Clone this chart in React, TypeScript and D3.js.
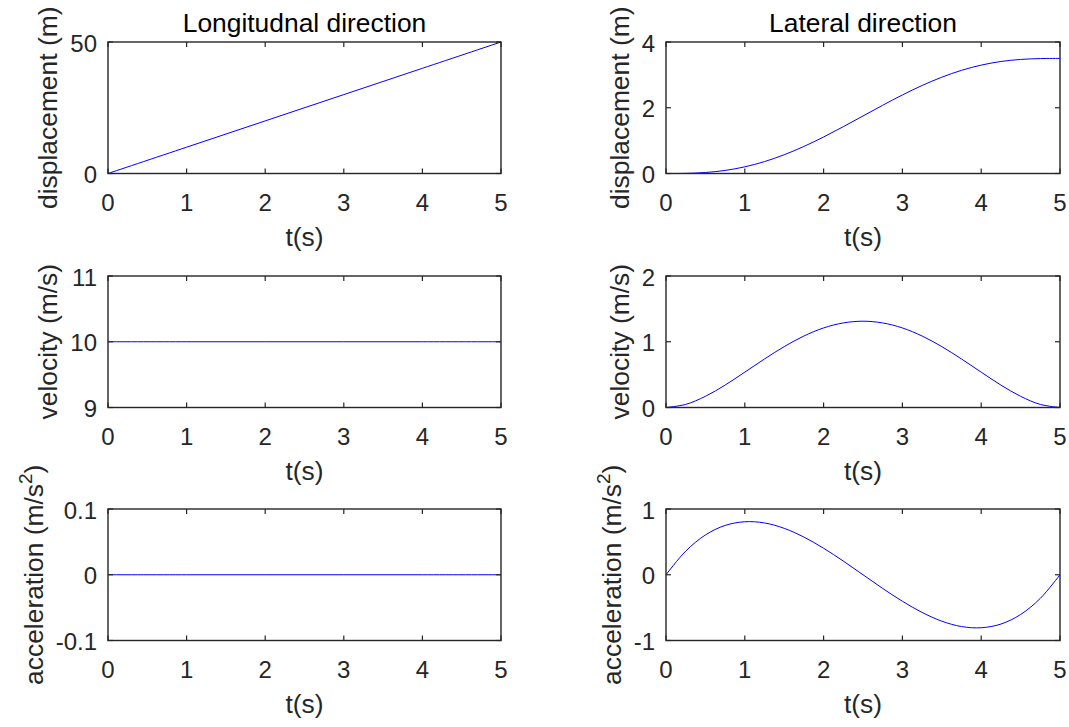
import React from "react";
import * as d3 from "d3";

// Time samples (s)
const timeLong = [0, 1, 2, 3, 4, 5];
const timeLat = [
  0, 0.25, 0.5, 0.75, 1, 1.25, 1.5, 1.75, 2, 2.25, 2.5, 2.75, 3, 3.25, 3.5,
  3.75, 4, 4.25, 4.5, 4.75, 5,
];

// Longitudinal motion
const longDisplacement = [0, 10, 20, 30, 40, 50];
const longVelocity = [10, 10, 10, 10, 10, 10];
const longAcceleration = [0, 0, 0, 0, 0, 0];

// Lateral motion (lane change)
const latDisplacement = [
  0, 0.004, 0.03, 0.093, 0.203, 0.362, 0.571, 0.823, 1.111, 1.424, 1.75,
  2.076, 2.389, 2.677, 2.929, 3.138, 3.297, 3.407, 3.47, 3.496, 3.5,
];
const latVelocity = [
  0, 0.047, 0.17, 0.341, 0.538, 0.738, 0.926, 1.087, 1.21, 1.286, 1.3125,
  1.286, 1.21, 1.087, 0.926, 0.738, 0.538, 0.341, 0.17, 0.047, 0,
];
const latAcceleration = [
  0, 0.359, 0.605, 0.75, 0.806, 0.788, 0.706, 0.573, 0.403, 0.208, 0, -0.208,
  -0.403, -0.573, -0.706, -0.788, -0.806, -0.75, -0.605, -0.359, 0,
];

// Tick values
const xTicks = [0, 1, 2, 3, 4, 5];
const longDispTicks = [0, 50];
const longVelTicks = [9, 10, 11];
const longAccTicks = [-0.1, 0, 0.1];
const latDispTicks = [0, 2, 4];
const latVelTicks = [0, 1, 2];
const latAccTicks = [-1, 0, 1];

const titles = ["Longitudnal direction", "Lateral direction"];

type Panel = {
  col: number;
  row: number;
  t: number[];
  v: number[];
  domain: [number, number];
  ticks: number[];
  label: string;
  sup?: string;
};

const panels: Panel[] = [
  { col: 0, row: 0, t: timeLong, v: longDisplacement, domain: [0, 50], ticks: longDispTicks, label: "displacement (m)" },
  { col: 0, row: 1, t: timeLong, v: longVelocity, domain: [9, 11], ticks: longVelTicks, label: "velocity (m/s)" },
  { col: 0, row: 2, t: timeLong, v: longAcceleration, domain: [-0.1, 0.1], ticks: longAccTicks, label: "acceleration (m/s", sup: "2" },
  { col: 1, row: 0, t: timeLat, v: latDisplacement, domain: [0, 4], ticks: latDispTicks, label: "displacement (m)" },
  { col: 1, row: 1, t: timeLat, v: latVelocity, domain: [0, 2], ticks: latVelTicks, label: "velocity (m/s)" },
  { col: 1, row: 2, t: timeLat, v: latAcceleration, domain: [-1, 1], ticks: latAccTicks, label: "acceleration (m/s", sup: "2" },
];

const W = 1069;
const H = 727;
const colX = [108, 666];
const colW = [393, 394];
const rowY = [42, 276, 509];
const rowH = 131.5;

const FONT = '"Liberation Sans", Arial, Helvetica, sans-serif';
const TICK_SIZE = 24;
const LABEL_SIZE = 26.4;
const INK = "#262626";
const TICK_LEN = 5;

let canvasCtx: CanvasRenderingContext2D | null = null;
function textWidth(s: string, size: number): number {
  if (!canvasCtx) {
    const c = document.createElement("canvas");
    canvasCtx = c.getContext("2d");
  }
  if (!canvasCtx) return s.length * size * 0.55;
  canvasCtx.font = `${size}px ${FONT}`;
  return canvasCtx.measureText(s).width;
}

function fmt(v: number): string {
  return String(v);
}

function PanelView({ p }: { p: Panel }) {
  const x0 = colX[p.col];
  const x1 = x0 + colW[p.col];
  const y0 = rowY[p.row];
  const y1 = y0 + rowH;
  const x = d3.scaleLinear().domain([0, 5]).range([x0, x1]);
  const y = d3.scaleLinear().domain(p.domain).range([y1, y0]);
  const pts = p.t.map((t, i) => [t, p.v[i]] as [number, number]);
  const line = d3
    .line<[number, number]>()
    .x((d) => x(d[0]))
    .y((d) => y(d[1]))
    .curve(d3.curveCatmullRom.alpha(0.5));

  const maxTickW = Math.max(...p.ticks.map((v) => textWidth(fmt(v), TICK_SIZE)));
  const tickRight = x0 - 11;
  const labelX = tickRight - maxTickW - 13;
  const labelY = (y0 + y1) / 2;

  return (
    <g>
      <path d={line(pts) ?? ""} fill="none" stroke="#0000ff" strokeWidth={1} />
      {/* box */}
      <rect x={x0} y={y0} width={x1 - x0} height={y1 - y0} fill="none" stroke={INK} strokeWidth={1.4} />
      {/* x ticks */}
      {xTicks.map((v) => (
        <g key={"xt" + v}>
          <line x1={x(v)} x2={x(v)} y1={y1} y2={y1 - TICK_LEN} stroke={INK} strokeWidth={1.2} />
          <line x1={x(v)} x2={x(v)} y1={y0} y2={y0 + TICK_LEN} stroke={INK} strokeWidth={1.2} />
          <text x={x(v)} y={y1 + 37} textAnchor="middle" fontSize={TICK_SIZE} fill={INK}>
            {fmt(v)}
          </text>
        </g>
      ))}
      {/* y ticks */}
      {p.ticks.map((v) => (
        <g key={"yt" + v}>
          <line x1={x0} x2={x0 + TICK_LEN} y1={y(v)} y2={y(v)} stroke={INK} strokeWidth={1.2} />
          <line x1={x1} x2={x1 - TICK_LEN} y1={y(v)} y2={y(v)} stroke={INK} strokeWidth={1.2} />
          <text x={tickRight} y={y(v) + 9.5} textAnchor="end" fontSize={TICK_SIZE} fill={INK}>
            {fmt(v)}
          </text>
        </g>
      ))}
      {/* x label */}
      <text x={(x0 + x1) / 2} y={y1 + 72} textAnchor="middle" fontSize={LABEL_SIZE} fill={INK}>
        t(s)
      </text>
      {/* y label */}
      <text
        transform={`translate(${labelX},${labelY}) rotate(-90)`}
        textAnchor="middle"
        fontSize={LABEL_SIZE}
        fill={INK}
      >
        {p.sup ? (
          <>
            <tspan>{p.label}</tspan>
            <tspan dy={-11} fontSize={19}>{p.sup}</tspan>
            <tspan dy={11}>)</tspan>
          </>
        ) : (
          p.label
        )}
      </text>
      {p.row === 0 && (
        <text x={(x0 + x1) / 2} y={y0 - 10.5} textAnchor="middle" fontSize={LABEL_SIZE} fill="#000">
          {titles[p.col]}
        </text>
      )}
    </g>
  );
}

export default function App() {
  return (
    <svg
      width={W}
      height={H}
      viewBox={`0 0 ${W} ${H}`}
      style={{ position: "absolute", left: 0, top: 0, background: "#fff", fontFamily: FONT }}
    >
      <rect width={W} height={H} fill="#fff" />
      {panels.map((p, i) => (
        <PanelView key={i} p={p} />
      ))}
    </svg>
  );
}
